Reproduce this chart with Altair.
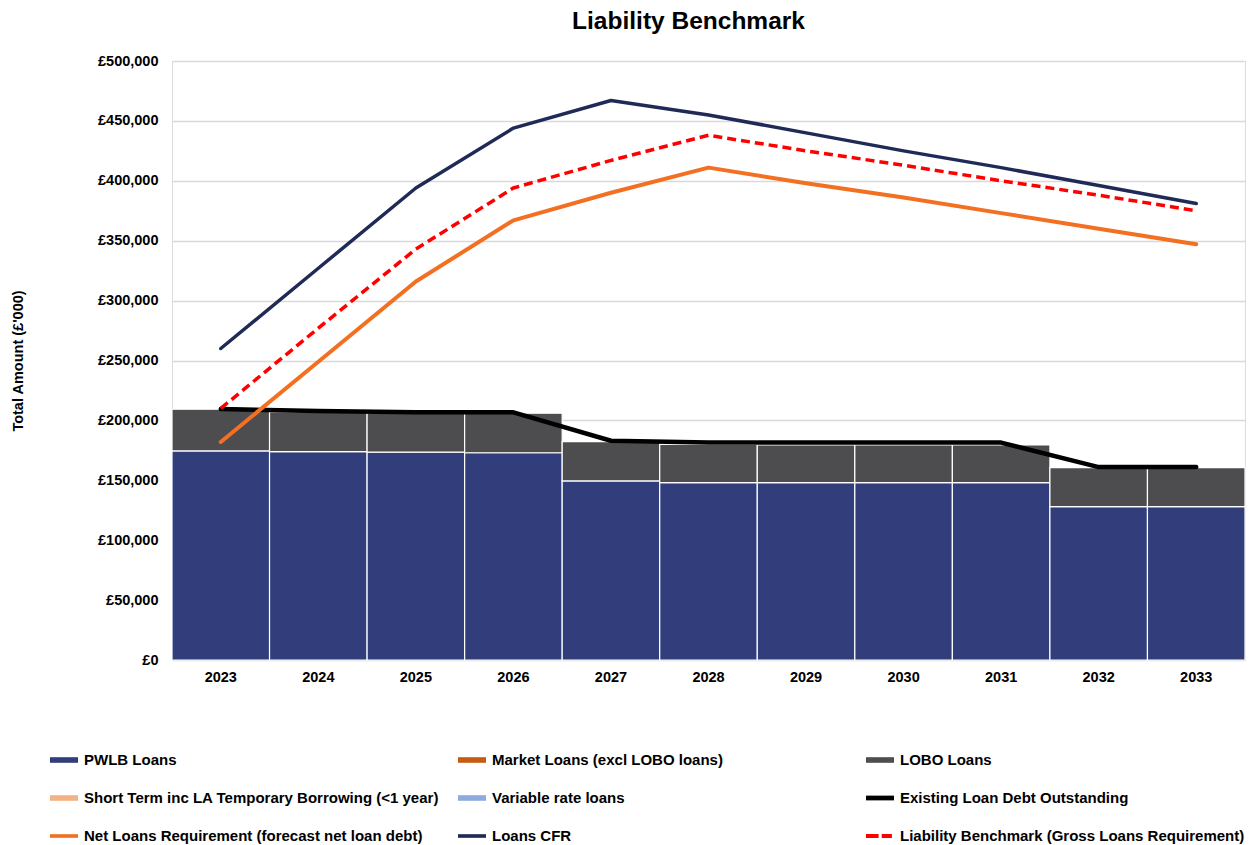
import altair as alt
import pandas as pd

years = ["2023", "2024", "2025", "2026", "2027", "2028", "2029", "2030", "2031", "2032", "2033"]

pwlb_loans = [174500, 174000, 173500, 173000, 149500, 148000, 148000, 148000, 148000, 128000, 128000]
lobo_loans = [34800, 33000, 33000, 33000, 32700, 32000, 31500, 31500, 31500, 32500, 32500]

existing_debt = [209500, 207800, 206800, 206700, 183000, 181500, 181500, 181500, 181500, 161000, 161000]
net_loans_req = [182000, 249000, 316000, 367000, 390000, 411000, 398000, 386000, 373000, 360000, 347000]
loans_cfr = [260000, 327000, 394000, 444000, 467000, 455000, 440000, 425000, 411000, 396000, 381000]
liability_bm = [210000, 277000, 343000, 394000, 417000, 438000, 425000, 413000, 400000, 388000, 375000]

series_names = [
    "PWLB Loans",
    "Market Loans (excl LOBO loans)",
    "LOBO Loans",
    "Short Term inc LA Temporary Borrowing (<1 year)",
    "Variable rate loans",
    "Existing Loan Debt Outstanding",
    "Net Loans Requirement (forecast net loan debt)",
    "Loans CFR",
    "Liability Benchmark (Gross Loans Requirement)",
]
series_colors = [
    "#313E7B", "#C55A11", "#4D4D4F", "#F4B183", "#8FAADC",
    "#000000", "#F37022", "#1F2A56", "#FF0000",
]
BAR = "M-1,-0.2H1V0.2H-1Z"
LINE = "M-1,-0.13H1V0.13H-1Z"
THICK = "M-1,-0.17H1V0.17H-1Z"
DASH = "M-1,-0.15H-0.1V0.15H-1Z M0.12,-0.15H0.85V0.15H0.12Z"
series_shapes = [BAR, BAR, BAR, BAR, BAR, THICK, LINE, LINE, DASH]

# ---- tables ----
bar_rows = []
for i, y in enumerate(years):
    bar_rows.append({"year": y, "series": series_names[0], "value": pwlb_loans[i], "ord": 0})
    bar_rows.append({"year": y, "series": series_names[2], "value": lobo_loans[i], "ord": 1})
bars_df = pd.DataFrame(bar_rows)

line_rows = []
for name, vals in [
    (series_names[5], existing_debt),
    (series_names[6], net_loans_req),
    (series_names[7], loans_cfr),
]:
    for i, y in enumerate(years):
        line_rows.append({"year": y, "series": name, "value": vals[i]})
lines_df = pd.DataFrame(line_rows)

lb_df = pd.DataFrame({"year": years, "series": series_names[8], "value": liability_bm})
legend_df = pd.DataFrame({"series": series_names})

FONT = "Liberation Sans"

color_scale = alt.Scale(domain=series_names, range=series_colors)

x_enc = alt.X(
    "year:N",
    sort=years,
    scale=alt.Scale(paddingInner=0, paddingOuter=0),
    axis=alt.Axis(
        title=None, labelAngle=0, ticks=False, domain=False,
        labelFontSize=14.5, labelFontWeight="bold", labelColor="#000000",
        labelPadding=10, labelFont=FONT,
    ),
)
y_enc = alt.Y(
    "value:Q",
    stack="zero",
    scale=alt.Scale(domain=[0, 500000], nice=False),
    axis=alt.Axis(
        title="Total Amount (£'000)",
        values=list(range(0, 500001, 50000)),
        labelExpr="'£' + format(datum.value, ',')",
        labelFontSize=14.5, labelFontWeight="bold", labelColor="#000000", labelFont=FONT,
        labelPadding=14, ticks=False, domain=False,
        grid=True, gridColor="#D9D9D9", gridWidth=1.3,
        titleFontSize=14.5, titleFontWeight="bold", titleColor="#000000", titleFont=FONT,
        titlePadding=72,
    ),
)

legend_def = alt.Legend(
    title=None, orient="none", legendX=-122, legendY=685, direction="horizontal",
    columns=3, gridAlign="all", columnPadding=19, rowPadding=16,
    labelFont=FONT, labelFontSize=15, labelFontWeight="bold", labelColor="#000000",
    labelOffset=6, symbolSize=784, symbolStrokeWidth=0, labelLimit=400,
)

legend_layer = alt.Chart(legend_df).mark_point(filled=True, opacity=1).encode(
    color=alt.Color("series:N", scale=color_scale, legend=legend_def),
    shape=alt.Shape(
        "series:N",
        scale=alt.Scale(domain=series_names, range=series_shapes),
        legend=legend_def,
    ),
).transform_filter("false")

bars = alt.Chart(bars_df).mark_bar(stroke="#FFFFFF", strokeWidth=1.2).encode(
    x=x_enc,
    y=y_enc,
    color=alt.Color("series:N", scale=color_scale),
    order=alt.Order("ord:Q"),
)

solid_lines = alt.Chart(lines_df).mark_line(strokeCap="round", strokeJoin="round").encode(
    x=alt.X("year:N", sort=years),
    y="value:Q",
    color=alt.Color("series:N", scale=color_scale),
    strokeWidth=alt.StrokeWidth(
        "series:N",
        scale=alt.Scale(domain=series_names[5:8], range=[4.5, 3.5, 3.2]),
        legend=None,
    ),
)

dashed_line = alt.Chart(lb_df).mark_line(strokeDash=[9, 5], strokeWidth=3.5).encode(
    x=alt.X("year:N", sort=years),
    y="value:Q",
    color=alt.Color("series:N", scale=color_scale),
)

chart = alt.layer(legend_layer, bars, solid_lines, dashed_line).properties(
    width=1073,
    height=599,
    padding={"left": 2, "top": 0, "right": 0, "bottom": 0},
    title=alt.TitleParams(
        "Liability Benchmark", font=FONT, fontSize=24.5, fontWeight="bold",
        color="#000000", anchor="middle", frame="group", dx=-20, offset=19,
    ),
).configure_view(stroke="#D9D9D9", strokeWidth=1.3).configure(background="#FFFFFF")

chart.save("out.html", embed_options={"renderer": "svg", "actions": False})
